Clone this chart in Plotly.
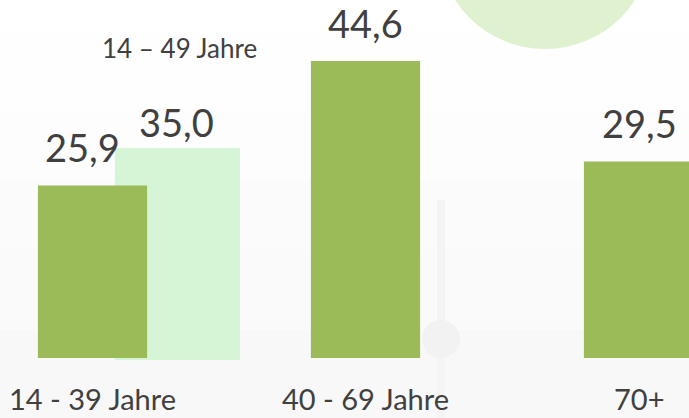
import plotly.graph_objects as go

# Data
categories = ["14 - 39 Jahre", "40 - 69 Jahre", "70+"]
values = [25.9, 44.6, 29.5]
overlay_label = "14 – 49 Jahre"
overlay_value = 35.0

GREEN = "#9BBB59"
LIGHT = "#D5F5D6"
CIRCLE = "#DFF1CF"
TEXT = "#404040"
FONT = "Lato"

def fmt(v):
    return f"{v:.1f}".replace(".", ",")

W, H = 689, 418
xpos = list(range(len(categories)))

fig = go.Figure()

# light overlay bar (behind, main axis)
fig.add_trace(go.Bar(
    x=[0.311], y=[overlay_value], width=[0.458],
    marker=dict(color=LIGHT, line=dict(width=0)),
    xaxis="x", yaxis="y", hoverinfo="skip",
))
# main green bars (on overlaying axis so they are drawn on top)
fig.add_trace(go.Bar(
    x=xpos, y=values, width=0.4,
    marker=dict(color=GREEN, line=dict(width=0)),
    xaxis="x", yaxis="y2", hoverinfo="skip",
))

annotations = []
xshifts = [-10.5, 0, 0.5]
yshifts = [39, 38, 38.5]
for i, (c, v) in enumerate(zip(categories, values)):
    annotations.append(dict(
        x=i, y=v, xref="x", yref="y2", text=fmt(v), showarrow=False,
        xanchor="center", yanchor="middle", xshift=xshifts[i], yshift=yshifts[i],
        font=dict(family=FONT, size=38, color=TEXT),
    ))
    annotations.append(dict(
        x=i, y=0, xref="x", yref="y2", text=c, showarrow=False,
        xanchor="center", yanchor="middle", yshift=-40,
        font=dict(family=FONT, size=29, color=TEXT),
    ))
annotations.append(dict(
    x=0.311, y=overlay_value, xref="x", yref="y", text=fmt(overlay_value),
    showarrow=False, xanchor="center", yanchor="middle", xshift=-1, yshift=26,
    font=dict(family=FONT, size=38, color=TEXT),
))
annotations.append(dict(
    x=0.311, y=overlay_value, xref="x", yref="y", text=overlay_label,
    showarrow=False, xanchor="center", yanchor="middle", xshift=2.5, yshift=100.5,
    font=dict(family=FONT, size=26, color=TEXT),
))

def py(p):
    return 1 - p / H

def px(p):
    return p / W

shapes = []
# soft background gradient (fine bands)
bands = [(33, 110, "#fefefe"), (110, 180, "#fdfdfd"), (180, 250, "#fbfbfb"),
         (250, 330, "#fafafa"), (330, 418, "#f8f8f8")]
for top, bot, col in bands:
    shapes.append(dict(type="rect", xref="paper", yref="paper", x0=0, x1=1,
                       y0=py(bot), y1=py(top), fillcolor=col, line=dict(width=0), layer="below"))
shapes += [
    # faint tower
    dict(type="rect", xref="paper", yref="paper", x0=px(437), x1=px(445), y0=0, y1=py(200),
         fillcolor="#f4f4f4", line=dict(width=0), layer="below"),
    dict(type="circle", xref="paper", yref="paper", x0=px(422), x1=px(460), y0=py(358), y1=py(320),
         fillcolor="#f2f2f2", line=dict(width=0), layer="below"),
    # decorative circle top right
    dict(type="circle", xref="paper", yref="paper", x0=px(545 - 107), x1=px(545 + 107),
         y0=py(49), y1=py(-165), fillcolor=CIRCLE, line=dict(width=0), layer="below"),
]

# axis ranges: main scale 0 at y=358, 44.6 at y=61
k2 = (358 - 61) / 44.6
k1 = (360 - 148) / overlay_value
x0c = 92.5
sp = 273.0

fig.update_layout(
    width=W, height=H,
    margin=dict(l=0, r=0, t=0, b=0),
    paper_bgcolor="white", plot_bgcolor="rgba(0,0,0,0)",
    showlegend=False,
    barmode="overlay",
    xaxis=dict(range=[-x0c / sp, (W - x0c) / sp], visible=False, fixedrange=True),
    yaxis=dict(range=[-(H - 360) / k1, 360 / k1], visible=False, fixedrange=True),
    yaxis2=dict(range=[-(H - 358) / k2, 358 / k2], visible=False, overlaying="y", fixedrange=True),
    annotations=annotations,
    shapes=shapes,
)

fig.write_html(
    "out.html",
    config={"displayModeBar": False},
    post_script="document.body.style.margin='0';document.body.style.overflow='hidden';",
)
